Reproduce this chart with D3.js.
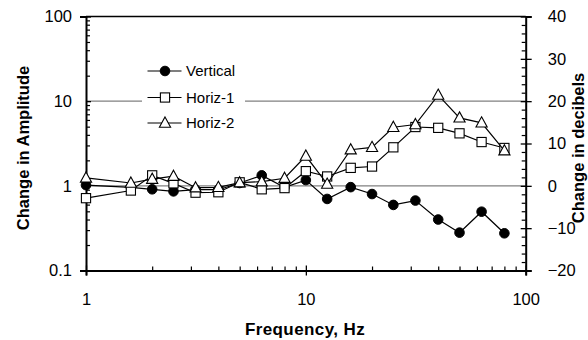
<!DOCTYPE html>
<html>
<head>
<meta charset="utf-8">
<script src="https://cdn.jsdelivr.net/npm/d3@7"></script>
<style>
  body { margin: 0; background: #fff; }
  svg { font-family: "Liberation Sans", Arial, sans-serif; }
</style>
</head>
<body>
<svg id="chart" width="588" height="340"></svg>
<script>
// Frequencies are 1/3-octave band centres.
const frequencies = [1, 1.6, 2, 2.5, 3.15, 4, 5, 6.3, 8, 10, 12.5, 16, 20, 25, 31.5, 40, 50, 63, 80];
const vertical = [1.02, 0.96, 0.91, 0.86, 0.9, 0.9, 1.08, 1.33, 0.96, 1.17, 0.70, 0.965, 0.80, 0.595, 0.67, 0.40, 0.28, 0.495, 0.275];
const horiz1 = [0.715, 0.88, 1.33, 1.07, 0.83, 0.84, 1.1, 0.91, 0.94, 1.49, 1.29, 1.63, 1.69, 2.85, 4.95, 4.84, 4.17, 3.29, 2.8];
const horiz2 = [1.24, 1.08, 1.2, 1.3, 0.95, 0.96, 1.09, 1.12, 1.23, 2.25, 1.05, 2.67, 2.85, 4.92, 5.3, 11.8, 6.35, 5.55, 2.6];

const seriesNames = ["Vertical", "Horiz-1", "Horiz-2"];
const markerTypes = ["circle", "square", "triangle"];

const ampTicks = [0.1, 1, 10, 100];
const ampLabels = ["0.1", "1", "10", "100"];
const dbTicks = [-20, -10, 0, 10, 20, 30, 40];
const freqTicks = [1, 10, 100];
const freqLabels = ["1", "10", "100"];
const gridValues = [1, 10];

const svg = d3.select("#chart");
const plot = { left: 86, right: 525.7, top: 16.5, bottom: 270.5 };

const x = d3.scaleLog().domain([1, 100]).range([plot.left, plot.right]);
const y = d3.scaleLog().domain([0.1, 100]).range([plot.bottom, plot.top]);
const yDb = d3.scaleLinear().domain([-20, 40]).range([plot.bottom, plot.top]);

// gray horizontal guides at 1 and 10
svg.append("g")
  .selectAll("line")
  .data(gridValues)
  .join("line")
  .attr("x1", plot.left)
  .attr("x2", plot.right)
  .attr("y1", (d) => y(d))
  .attr("y2", (d) => y(d))
  .attr("stroke", "#808080")
  .attr("stroke-width", 1.3);

// frame top line
svg.append("line")
  .attr("x1", plot.left).attr("x2", plot.right)
  .attr("y1", plot.top).attr("y2", plot.top)
  .attr("stroke", "#000").attr("stroke-width", 1.6);

const fontSize = "16.5px";

// left axis
const leftAxis = svg.append("g")
  .attr("transform", `translate(${plot.left},0)`)
  .call(d3.axisLeft(y).tickValues(ampTicks).tickFormat((d, i) => ampLabels[i]).tickSize(6).tickPadding(8));
leftAxis.select(".domain").attr("stroke-width", 2);
leftAxis.selectAll(".tick line").attr("x2", 5).attr("stroke-width", 1.3);
leftAxis.selectAll("text").style("font-size", fontSize).attr("fill", "#000");

svg.append("g")
  .attr("transform", `translate(${plot.left},0)`)
  .call(d3.axisRight(y).tickValues(y.ticks().filter((d) => !ampTicks.includes(d))).tickFormat("").tickSize(4))
  .call((g) => g.select(".domain").remove())
  .selectAll("line").attr("stroke-width", 1.2);

// right axis (decibels)
const rightAxis = svg.append("g")
  .attr("transform", `translate(${plot.right},0)`)
  .call(d3.axisRight(yDb).tickValues(dbTicks).tickSize(6).tickPadding(16));
rightAxis.select(".domain").attr("stroke-width", 2);
rightAxis.selectAll(".tick line").attr("x1", -5).attr("stroke-width", 1.3);
rightAxis.selectAll("text").style("font-size", fontSize).attr("fill", "#000");

svg.append("g")
  .attr("transform", `translate(${plot.right},0)`)
  .call(d3.axisLeft(yDb).tickValues(yDb.ticks(30).filter((d) => !dbTicks.includes(d))).tickFormat("").tickSize(4))
  .call((g) => g.select(".domain").remove())
  .selectAll("line").attr("stroke-width", 1.2);

// bottom axis
const bottomAxis = svg.append("g")
  .attr("transform", `translate(0,${plot.bottom})`)
  .call(d3.axisBottom(x).tickValues(freqTicks).tickFormat((d, i) => freqLabels[i]).tickSize(5).tickPadding(18));
bottomAxis.select(".domain").attr("stroke-width", 2);
bottomAxis.selectAll(".tick line").attr("y1", -5).attr("stroke-width", 1.3);
bottomAxis.selectAll("text").style("font-size", fontSize).attr("fill", "#000");

svg.append("g")
  .attr("transform", `translate(0,${plot.bottom})`)
  .call(d3.axisTop(x).tickValues(x.ticks().filter((d) => !freqTicks.includes(d))).tickFormat("").tickSize(4))
  .call((g) => g.select(".domain").remove())
  .selectAll("line").attr("stroke-width", 1.2);

// marker helper
const trianglePath = "M0,-6 L5.6,4.2 L-5.6,4.2 Z";
function addMarkers(sel, type) {
  if (type === "circle") {
    sel.append("circle").attr("r", 4.8).attr("fill", "#000").attr("stroke", "#000");
  } else if (type === "square") {
    sel.append("rect").attr("x", -4.6).attr("y", -4.6).attr("width", 9.2).attr("height", 9.2)
      .attr("fill", "#fff").attr("stroke", "#000").attr("stroke-width", 1.1);
  } else {
    sel.append("path").attr("d", trianglePath)
      .attr("fill", "#fff").attr("stroke", "#000").attr("stroke-width", 1.1);
  }
}

const allSeries = [vertical, horiz1, horiz2];
const line = d3.line()
  .x((d, i) => x(frequencies[i]))
  .y((d) => y(d));

allSeries.forEach((values, s) => {
  const g = svg.append("g");
  g.append("path")
    .datum(values)
    .attr("fill", "none")
    .attr("stroke", "#000")
    .attr("stroke-width", 1.2)
    .attr("d", line);
  const pts = g.selectAll(".pt")
    .data(values)
    .join("g")
    .attr("class", "pt")
    .attr("transform", (d, i) => `translate(${x(frequencies[i])},${y(d)})`);
  addMarkers(pts, markerTypes[s]);
});

// legend
const legend = svg.append("g");
legend.append("rect")
  .attr("x", 142).attr("y", 58).attr("width", 103).attr("height", 78)
  .attr("fill", "#fff");
const rowY = [71, 97.5, 123];
seriesNames.forEach((name, s) => {
  const row = legend.append("g").attr("transform", `translate(0,${rowY[s]})`);
  row.append("line").attr("x1", 147.5).attr("x2", 181.5).attr("stroke", "#000").attr("stroke-width", 1.2);
  const m = row.append("g").attr("transform", "translate(165,0)");
  addMarkers(m, markerTypes[s]);
  row.append("text")
    .attr("x", 186)
    .attr("dy", "0.35em")
    .style("font-size", "15px")
    .text(name);
});

// axis titles
svg.append("text")
  .attr("transform", `translate(29,148) rotate(-90)`)
  .attr("text-anchor", "middle")
  .style("font-size", "16.5px")
  .style("font-weight", "bold")
  .text("Change in Amplitude");

svg.append("text")
  .attr("transform", `translate(584,148) rotate(-90)`)
  .attr("text-anchor", "middle")
  .style("font-size", "16.5px")
  .style("font-weight", "bold")
  .text("Change in decibels");

svg.append("text")
  .attr("x", 305)
  .attr("y", 335)
  .attr("text-anchor", "middle")
  .style("font-size", "17px")
  .style("font-weight", "bold")
  .style("letter-spacing", "0.4px")
  .text("Frequency, Hz");
</script>
</body>
</html>
